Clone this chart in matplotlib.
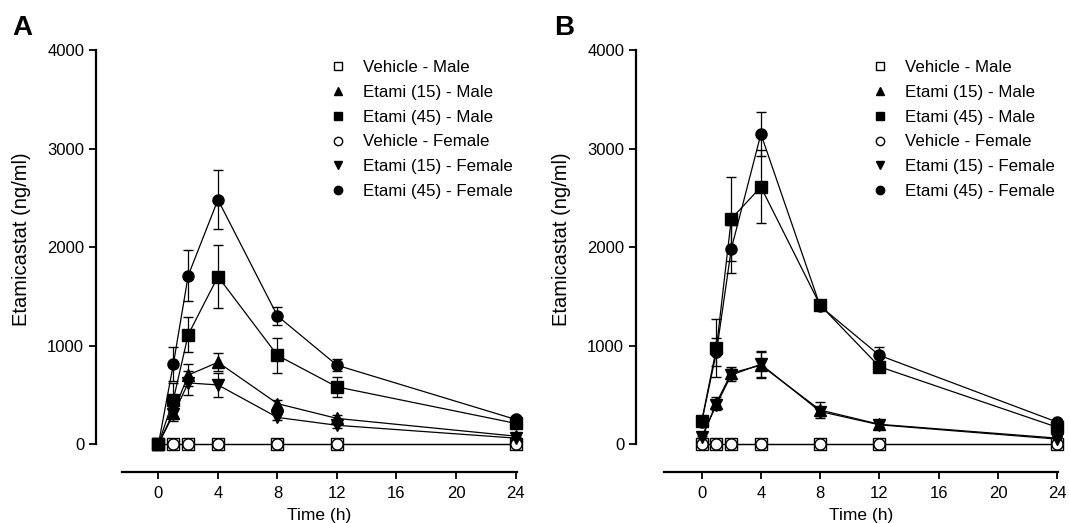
import matplotlib
matplotlib.use('Agg')
import matplotlib.pyplot as plt
from matplotlib.lines import Line2D

plt.rcParams['font.family'] = ['Liberation Sans', 'DejaVu Sans']

time_h = [0, 1, 2, 4, 8, 12, 24]
series_labels = ['Vehicle - Male', 'Etami (15) - Male', 'Etami (45) - Male',
                 'Vehicle - Female', 'Etami (15) - Female', 'Etami (45) - Female']

# Panel A values (ng/ml) and SEM
a_veh_m = [0, 0, 0, 0, 0, 0, 0]
a_e15_m = [0, 320, 700, 830, 410, 260, 80]
a_e45_m = [0, 450, 1110, 1700, 900, 580, 210]
a_veh_f = [0, 0, 0, 0, 0, 0, 0]
a_e15_f = [0, 300, 620, 600, 270, 190, 60]
a_e45_f = [0, 810, 1710, 2480, 1300, 800, 250]
a_err_veh_m = [0, 0, 0, 0, 0, 0, 0]
a_err_e15_m = [0, 60, 110, 90, 40, 30, 15]
a_err_e45_m = [0, 170, 180, 320, 175, 100, 30]
a_err_veh_f = [0, 0, 0, 0, 0, 0, 0]
a_err_e15_f = [0, 70, 120, 120, 30, 30, 10]
a_err_e45_f = [0, 170, 255, 300, 90, 60, 30]

# Panel B values (ng/ml) and SEM
b_veh_m = [0, 0, 0, 0, 0, 0, 0]
b_e15_m = [50, 420, 720, 800, 345, 200, 60]
b_e45_m = [230, 975, 2285, 2610, 1410, 785, 170]
b_veh_f = [0, 0, 0, 0, 0, 0, 0]
b_e15_f = [70, 400, 700, 810, 330, 195, 50]
b_e45_f = [220, 935, 1980, 3147, 1400, 900, 222]
b_err_veh_m = [0, 0, 0, 0, 0, 0, 0]
b_err_e15_m = [10, 60, 60, 130, 80, 30, 10]
b_err_e45_m = [30, 290, 430, 370, 40, 40, 20]
b_err_veh_f = [0, 0, 0, 0, 0, 0, 0]
b_err_e15_f = [10, 50, 60, 130, 50, 30, 10]
b_err_e45_f = [30, 145, 240, 225, 40, 80, 20]

markers = ['s', '^', 's', 'o', 'v', 'o']
faces = ['white', 'black', 'black', 'white', 'black', 'black']
msizes = [8, 8.5, 8, 8, 8.5, 8]

yticks = [0, 1000, 2000, 3000, 4000]
xticks = [0, 4, 8, 12, 16, 20, 24]

W, H = 1069, 523
fig = plt.figure(figsize=(W / 100, H / 100), dpi=100)


def make_axes(left_px, right_px, top_px, bottom_px):
    return fig.add_axes([left_px / W, 1 - bottom_px / H,
                         (right_px - left_px) / W, (bottom_px - top_px) / H])


def draw_panel(ax, vals, errs, xlim, spine_offset_pt, leg_x, letter, letter_x, ylab_x):
    for v, e, m, fc, ms in zip(vals, errs, markers, faces, msizes):
        ax.errorbar(time_h, v, yerr=e, fmt='-', color='black', lw=0.9,
                    marker=m, mfc=fc, mec='black', mew=1.0, ms=ms,
                    capsize=3.8, capthick=0.9, elinewidth=0.9, clip_on=False)
    ax.set_xlim(*xlim)
    ax.set_ylim(-284, 4000)
    for s in ['top', 'right']:
        ax.spines[s].set_visible(False)
    ax.spines['left'].set_position(('outward', spine_offset_pt))
    ax.spines['left'].set_bounds(0, 4000)
    ax.spines['left'].set_linewidth(1.6)
    ax.spines['bottom'].set_linewidth(1.6)
    ax.set_xticks(xticks)
    ax.set_yticks(yticks)
    ax.tick_params(direction='out', length=5, width=1.3, labelsize=12, pad=3.5)
    ax.tick_params(axis='x', pad=5)
    ax.set_xlabel('Time (h)', fontsize=12.5, labelpad=5)
    ax.set_ylabel('Etamicastat (ng/ml)', fontsize=14.5)
    ax.yaxis.set_label_coords(ylab_x, 0.552)
    handles = [Line2D([], [], ls='none', marker=m, mfc=fc, mec='black', mew=1.0, ms=ms * 0.75)
               for m, fc, ms in zip(markers, faces, msizes)]
    ax.legend(handles, series_labels, loc='upper left',
              bbox_to_anchor=(leg_x / W, 1 - 60 / H), bbox_transform=fig.transFigure,
              frameon=False, fontsize=12.2, handlelength=1.0, handletextpad=0.97,
              labelspacing=0.58, borderpad=0, borderaxespad=0)
    fig.text(letter_x / W, 1 - 28 / H, letter, fontsize=20, fontweight='bold',
             ha='left', va='center')


axA = make_axes(122, 517, 50, 472)
draw_panel(axA,
           [a_veh_m, a_e15_m, a_e45_m, a_veh_f, a_e15_f, a_e45_f],
           [a_err_veh_m, a_err_e15_m, a_err_e45_m, a_err_veh_f, a_err_e15_f, a_err_e45_f],
           (-2.45, 24.1), 18.7, 329.5, 'A', 12, -0.230)

axB = make_axes(664, 1058, 50, 472)
draw_panel(axB,
           [b_veh_m, b_e15_m, b_e45_m, b_veh_f, b_e15_f, b_e45_f],
           [b_err_veh_m, b_err_e15_m, b_err_e45_m, b_err_veh_f, b_err_e15_f, b_err_e45_f],
           (-2.54, 24.05), 20.2, 871.5, 'B', 554, -0.236)

fig.savefig('out.png', dpi=100)
